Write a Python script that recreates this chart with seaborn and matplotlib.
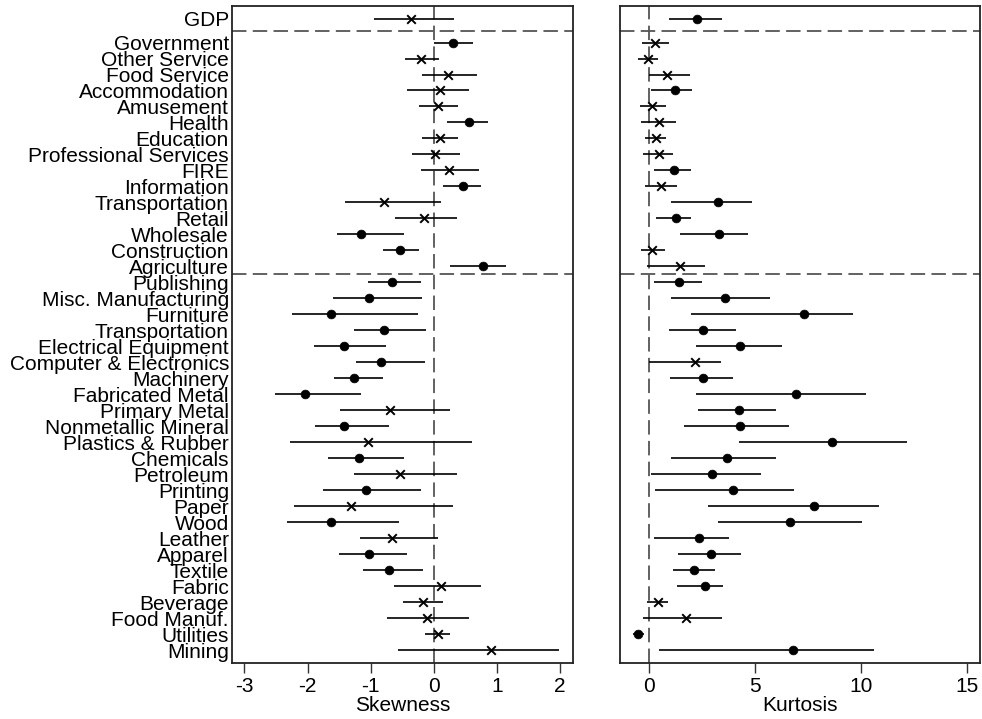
import numpy as np
import pandas as pd
import matplotlib
matplotlib.use('Agg')
import matplotlib.pyplot as plt
import seaborn as sns

# Rows listed top to bottom
industries = ['GDP', 'Government', 'Other Service', 'Food Service', 'Accommodation',
              'Amusement', 'Health', 'Education', 'Professional Services', 'FIRE',
              'Information', 'Transportation', 'Retail', 'Wholesale', 'Construction',
              'Agriculture', 'Publishing', 'Misc. Manufacturing', 'Furniture',
              'Transportation', 'Electrical Equipment', 'Computer & Electronics',
              'Machinery', 'Fabricated Metal', 'Primary Metal', 'Nonmetallic Mineral',
              'Plastics & Rubber', 'Chemicals', 'Petroleum', 'Printing', 'Paper', 'Wood',
              'Leather', 'Apparel', 'Textile', 'Fabric', 'Beverage', 'Food Manuf.',
              'Utilities', 'Mining']

skew = [-0.37, 0.31, -0.21, 0.23, 0.09, 0.07, 0.55, 0.09, 0.02, 0.24,
        0.46, -0.79, -0.15, -1.15, -0.53, 0.77, -0.66, -1.03, -1.63, -0.79,
        -1.42, -0.83, -1.26, -2.04, -0.69, -1.42, -1.04, -1.18, -0.53, -1.07,
        -1.32, -1.63, -0.66, -1.03, -0.71, 0.11, -0.18, -0.11, 0.07, 0.90]
skew_lo = [-0.95, 0.0, -0.45, -0.19, -0.42, -0.24, 0.21, -0.19, -0.35, -0.21,
           0.14, -1.41, -0.61, -1.54, -0.81, 0.25, -1.05, -1.59, -2.25, -1.27,
           -1.90, -1.24, -1.58, -2.52, -1.49, -1.89, -2.28, -1.68, -1.27, -1.75,
           -2.21, -2.33, -1.17, -1.51, -1.12, -0.63, -0.49, -0.75, -0.14, -0.57]
skew_hi = [0.32, 0.62, 0.08, 0.68, 0.55, 0.38, 0.86, 0.38, 0.41, 0.71,
           0.74, 0.11, 0.36, -0.47, -0.23, 1.14, -0.20, -0.19, -0.25, -0.13,
           -0.76, -0.14, -0.81, -1.15, 0.25, -0.71, 0.60, -0.47, 0.37, -0.21,
           0.30, -0.55, 0.07, -0.43, -0.17, 0.75, 0.14, 0.55, 0.25, 1.98]
skew_sig = [0, 1, 0, 0, 0, 0, 1, 0, 0, 0,
            1, 0, 0, 1, 1, 1, 1, 1, 1, 1,
            1, 1, 1, 1, 0, 1, 0, 1, 0, 1,
            0, 1, 0, 1, 1, 0, 0, 0, 0, 0]

kurt = [2.28, 0.30, -0.03, 0.88, 1.22, 0.14, 0.47, 0.33, 0.47, 1.18,
        0.57, 3.27, 1.27, 3.30, 0.17, 1.46, 1.44, 3.58, 7.32, 2.56,
        4.30, 2.17, 2.56, 6.95, 4.25, 4.32, 8.63, 3.67, 3.00, 3.96,
        7.77, 6.64, 2.37, 2.92, 2.15, 2.64, 0.44, 1.74, -0.49, 6.77]
kurt_lo = [0.96, -0.30, -0.49, 0.0, 0.09, -0.42, -0.36, -0.16, -0.27, 0.25,
           -0.16, 1.07, 0.36, 1.46, -0.36, -0.06, 0.25, 1.07, 1.98, 0.94,
           2.23, 0.0, 1.02, 2.23, 2.32, 1.65, 4.24, 1.04, 0.13, 0.28,
           2.79, 3.27, 0.24, 1.37, 1.15, 1.33, -0.09, -0.25, -0.72, 0.49]
kurt_hi = [3.45, 0.94, 0.42, 1.96, 2.06, 0.83, 1.30, 0.80, 1.13, 2.01,
           1.33, 4.84, 2.01, 4.69, 0.78, 2.64, 2.50, 5.73, 9.62, 4.10,
           6.28, 3.42, 3.97, 10.24, 5.97, 6.59, 12.14, 6.01, 5.29, 6.84,
           10.82, 10.06, 3.78, 4.33, 3.11, 3.50, 0.91, 3.45, -0.24, 10.61]
kurt_sig = [1, 0, 0, 0, 1, 0, 0, 0, 0, 1,
            0, 1, 1, 1, 0, 0, 1, 1, 1, 1,
            1, 0, 1, 1, 1, 1, 1, 1, 1, 1,
            1, 1, 1, 1, 1, 1, 0, 0, 1, 1]

# GDP sits 1.5 rows above the rest
ypos = [40.5] + list(range(39, 0, -1))

df = pd.DataFrame({'industry': industries, 'y': ypos,
                   'skew': skew, 'skew_lo': skew_lo, 'skew_hi': skew_hi, 'skew_sig': skew_sig,
                   'kurt': kurt, 'kurt_lo': kurt_lo, 'kurt_hi': kurt_hi, 'kurt_sig': kurt_sig})

sns.set_style('white')
plt.rcParams['font.family'] = ['Liberation Sans', 'DejaVu Sans']
plt.rcParams['font.size'] = 15
plt.rcParams['text.color'] = 'black'
plt.rcParams['axes.labelcolor'] = 'black'
plt.rcParams['xtick.color'] = 'black'
plt.rcParams['ytick.color'] = 'black'

fig = plt.figure(figsize=(9.82, 7.19), dpi=100)
ax1 = fig.add_axes([0.236, 0.078, 0.348, 0.914])
ax2 = fig.add_axes([0.631, 0.078, 0.367, 0.914])

dash_col = '#555555'


def draw_panel(ax, col, xlim, xticks, xlabel):
    ax.hlines(df['y'], df[col + '_lo'], df[col + '_hi'], color='black', lw=1.2, zorder=3)
    sig = df[df[col + '_sig'] == 1]
    ns = df[df[col + '_sig'] == 0]
    sns.scatterplot(data=sig, x=col, y='y', marker='o', color='black', s=40,
                    edgecolor='black', linewidth=0.5, ax=ax, zorder=4)
    sns.scatterplot(data=ns, x=col, y='y', marker='x', color='black', s=38,
                    linewidth=1.4, ax=ax, zorder=4)
    ax.axvline(0, color=dash_col, lw=1.3, dashes=(8, 3.5), zorder=2)
    for yl in [39.75, 24.5]:
        ax.axhline(yl, color=dash_col, lw=1.3, dashes=(8, 3.5), zorder=2)
    ax.set_xlim(*xlim)
    ax.set_ylim(0.2, 41.3)
    ax.set_xticks(xticks)
    ax.set_xticklabels([str(t) for t in xticks])
    ax.set_xlabel(xlabel, fontsize=15, labelpad=0)
    ax.set_ylabel('')
    ax.tick_params(axis='x', direction='out', length=7, width=1, color='#333333',
                   labelsize=15, pad=3, bottom=True)
    for sp in ax.spines.values():
        sp.set_visible(True)
        sp.set_color('#222222')
        sp.set_linewidth(1.3)


draw_panel(ax1, 'skew', (-3.2, 2.21), [-3, -2, -1, 0, 1, 2], 'Skewness')
draw_panel(ax2, 'kurt', (-1.37, 15.6), [0, 5, 10, 15], 'Kurtosis')

ax1.set_yticks(df['y'])
ax1.set_yticklabels(df['industry'], fontsize=15)
ax1.tick_params(axis='y', length=0, pad=2)
ax2.set_yticks([])

fig.savefig('out.png', dpi=100)
